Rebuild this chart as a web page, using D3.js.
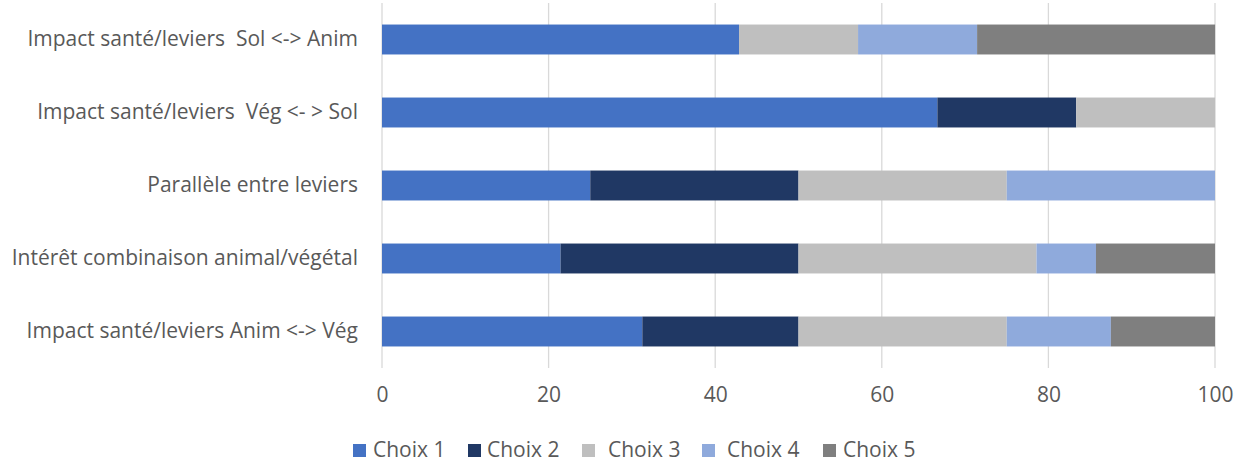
<!DOCTYPE html>
<html>
<head>
<meta charset="utf-8">
<script src="https://cdn.jsdelivr.net/npm/d3@7"></script>
<style>
  body { margin: 0; background: #fff; }
  svg text { font-family: "Open Sans", sans-serif; fill: #595959; white-space: pre; }
</style>
</head>
<body>
<div id="chart"></div>
<script>
  var categories = [
    'Impact santé/leviers  Sol <-> Anim',
    'Impact santé/leviers  Vég <- > Sol',
    'Parallèle entre leviers',
    'Intérêt combinaison animal/végétal',
    'Impact santé/leviers Anim <-> Vég'
  ];
  var seriesNames = ['Choix 1', 'Choix 2', 'Choix 3', 'Choix 4', 'Choix 5'];
  var choix1 = [42.86, 66.67, 25, 21.43, 31.25];
  var choix2 = [0, 16.67, 25, 28.57, 18.75];
  var choix3 = [14.29, 16.67, 25, 28.57, 25];
  var choix4 = [14.29, 0, 25, 7.14, 12.5];
  var choix5 = [28.57, 0, 0, 14.29, 12.5];
  var xTicks = [0, 20, 40, 60, 80, 100];
  var colors = ['#4472C4', '#203864', '#BFBFBF', '#8FAADC', '#7F7F7F'];

  (function() {
    var width = 1237, height = 463
      , mLeft = 382, mRight = 1215, mTop = 3, mBottom = 368
      , fontSize = '21px'
      , legendSq = [353, 468, 582, 702, 823]
      , legendTx = [373, 487, 608, 727, 843];

    var rows = categories.map(function(c, i) {
      return { cat: c, 'Choix 1': choix1[i], 'Choix 2': choix2[i], 'Choix 3': choix3[i],
        'Choix 4': choix4[i], 'Choix 5': choix5[i] };
    });
    var stacked = d3.stack().keys(seriesNames)(rows);

    var x = d3.scaleLinear().domain([0, 100]).range([mLeft, mRight]);
    var y = d3.scaleBand().domain(categories).range([mTop, mBottom]).paddingInner(0.59).paddingOuter(0.295);
    var color = d3.scaleOrdinal().domain(seriesNames).range(colors);

    var svg = d3.select('#chart').append('svg')
      .attr('width', width)
      .attr('height', height);

    // grid
    svg.append('g').selectAll('line')
      .data(xTicks)
      .enter().append('line')
      .attr('x1', function(d) { return x(d); })
      .attr('x2', function(d) { return x(d); })
      .attr('y1', mTop)
      .attr('y2', mBottom)
      .attr('stroke', '#D9D9D9')
      .attr('stroke-width', 1.3);

    // bars
    svg.append('g').selectAll('g')
      .data(stacked)
      .enter().append('g')
      .attr('fill', function(s) { return color(s.key); })
      .selectAll('rect')
      .data(function(s) { return s; })
      .enter().append('rect')
      .attr('x', function(d) { return x(d[0]); })
      .attr('y', function(d) { return y(d.data.cat); })
      .attr('width', function(d) { return x(d[1]) - x(d[0]); })
      .attr('height', y.bandwidth());

    // x axis labels
    var xAxis = d3.axisBottom(x).tickValues(xTicks).tickSize(0).tickPadding(19);
    var gx = svg.append('g')
      .attr('transform', 'translate(0,' + mBottom + ')')
      .call(xAxis);
    gx.select('.domain').remove();
    gx.selectAll('text').style('font-size', fontSize).style('fill', '#595959');

    // y axis labels
    var yAxis = d3.axisLeft(y).tickSize(0).tickPadding(24);
    var gy = svg.append('g')
      .attr('transform', 'translate(' + mLeft + ',0)')
      .call(yAxis);
    gy.select('.domain').remove();
    gy.selectAll('text').style('font-size', fontSize).style('fill', '#595959');

    // legend
    var legend = svg.append('g').selectAll('g')
      .data(seriesNames)
      .enter().append('g');
    legend.append('rect')
      .attr('x', function(d, i) { return legendSq[i]; })
      .attr('y', 444)
      .attr('width', 13)
      .attr('height', 13)
      .attr('fill', function(d) { return color(d); });
    legend.append('text')
      .attr('x', function(d, i) { return legendTx[i]; })
      .attr('y', 450)
      .attr('dy', '0.35em')
      .style('font-size', fontSize)
      .text(function(d) { return d; });
  })();
</script>
</body>
</html>
